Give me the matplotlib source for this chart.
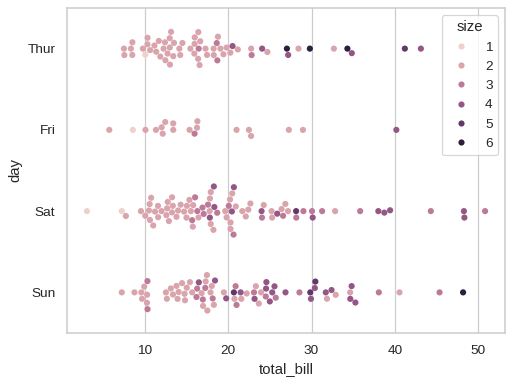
import numpy as np
import pandas as pd
import seaborn as sns
from matplotlib import pyplot as plt

days = ["Thur", "Fri", "Sat", "Sun"]

thur_bill = [27.20, 22.76, 17.29, 19.44, 16.66, 10.07, 32.68, 15.98, 34.83, 13.03,
             18.28, 24.71, 21.16, 10.65, 12.43, 24.08, 11.69, 13.42, 14.26, 15.95,
             12.48, 29.80, 8.52, 14.52, 11.38, 22.82, 19.08, 20.27, 11.17, 12.26,
             18.26, 8.51, 10.33, 14.15, 16.00, 13.16, 17.47, 34.30, 41.19, 27.05,
             16.43, 8.35, 18.64, 11.87, 9.78, 7.51, 19.81, 28.44, 15.48, 16.58,
             7.56, 10.34, 43.11, 13.00, 13.51, 18.71, 12.74, 13.00, 16.40, 20.53,
             16.47, 18.78]
thur_size = [4, 2, 2, 2, 2, 1, 2, 2, 4, 2,
             2, 2, 2, 2, 2, 4, 2, 2, 2, 2,
             2, 6, 2, 2, 2, 3, 2, 2, 2, 2,
             2, 2, 2, 2, 2, 2, 2, 6, 5, 6,
             2, 2, 3, 2, 2, 2, 2, 2, 2, 2,
             2, 2, 4, 2, 2, 3, 2, 2, 2, 4,
             3, 2]

fri_bill = [28.97, 22.49, 5.75, 16.32, 22.75, 40.17, 27.28, 12.03, 21.01, 12.46,
            11.35, 15.38, 12.16, 13.42, 8.58, 15.98, 13.42, 16.27, 10.09]
fri_size = [2, 2, 2, 2, 2, 4, 2, 2, 2, 2,
            2, 2, 2, 2, 1, 3, 2, 2, 2]

sat_bill = [20.65, 17.92, 20.29, 15.77, 39.42, 19.82, 17.81, 13.37, 12.69, 21.70,
            19.65, 9.55, 18.35, 15.06, 20.69, 17.78, 24.06, 16.31, 16.93, 18.69,
            31.27, 16.04, 38.01, 26.41, 11.24, 48.27, 20.29, 13.81, 11.02, 18.29,
            17.59, 20.08, 16.45, 3.07, 20.23, 15.01, 12.02, 17.07, 26.86, 25.28,
            14.73, 10.51, 17.92, 44.30, 22.42, 20.92, 15.36, 20.49, 25.21, 18.24,
            14.31, 14.00, 7.25, 10.59, 10.63, 50.81, 15.81, 26.59, 38.73, 24.27,
            12.76, 30.06, 25.89, 48.33, 13.27, 28.17, 12.90, 28.15, 11.59, 7.74,
            30.14, 20.45, 13.28, 22.12, 24.01, 15.69, 11.61, 10.77, 15.53, 10.07,
            12.60, 32.83, 35.83, 29.03, 27.18, 22.67, 17.82]
sat_size = [3, 2, 2, 2, 4, 2, 4, 2, 2, 2,
            2, 2, 4, 2, 4, 2, 3, 3, 3, 3,
            3, 3, 4, 2, 2, 4, 2, 2, 2, 4,
            3, 3, 2, 1, 2, 2, 2, 3, 2, 2,
            2, 2, 2, 3, 2, 2, 2, 2, 2, 2,
            2, 2, 1, 2, 2, 3, 2, 3, 4, 2,
            2, 3, 4, 4, 2, 3, 2, 5, 2, 2,
            4, 4, 2, 2, 4, 3, 2, 2, 2, 2,
            2, 2, 3, 3, 2, 2, 2]

sun_bill = [16.99, 10.34, 21.01, 23.68, 24.59, 25.29, 8.77, 26.88, 15.04, 14.78,
            10.27, 35.26, 15.42, 18.43, 14.83, 21.58, 10.33, 16.29, 16.97, 17.46,
            13.94, 9.68, 30.40, 18.29, 22.23, 32.40, 28.55, 18.04, 12.54, 10.29,
            34.81, 9.94, 25.56, 19.49, 38.07, 23.95, 25.71, 17.31, 29.93, 14.07,
            13.13, 17.26, 24.55, 19.77, 29.85, 48.17, 25.00, 13.39, 16.49, 21.50,
            12.66, 16.21, 13.81, 17.51, 24.52, 20.76, 31.71, 7.25, 31.85, 16.82,
            32.90, 17.89, 14.48, 9.60, 34.63, 34.65, 23.33, 45.35, 23.17, 40.55,
            20.69, 20.90, 30.46, 18.15, 23.10, 15.69]
sun_size = [2, 3, 3, 2, 4, 4, 2, 4, 2, 2,
            2, 4, 2, 4, 2, 2, 3, 3, 3, 2,
            2, 2, 4, 2, 2, 4, 3, 2, 2, 2,
            4, 2, 4, 2, 3, 2, 3, 2, 4, 2,
            2, 3, 4, 4, 5, 6, 4, 2, 4, 4,
            2, 3, 2, 2, 3, 2, 4, 2, 2, 2,
            2, 2, 2, 2, 2, 4, 2, 3, 4, 2,
            5, 3, 5, 3, 3, 2]

bills = [thur_bill, fri_bill, sat_bill, sun_bill]
sizes = [thur_size, fri_size, sat_size, sun_size]

tips = pd.DataFrame({
    "total_bill": np.concatenate(bills),
    "day": np.concatenate([[d] * len(b) for d, b in zip(days, bills)]),
    "size": np.concatenate(sizes),
})

sns.set_theme(style="whitegrid")
plt.rcParams['font.family'] = ['Liberation Sans', 'DejaVu Sans']

# reference looks like a tight-cropped 100dpi figure shrunk to 512 px
dpi = 88.9
fig = plt.figure(figsize=(512 / dpi, 385 / dpi), dpi=dpi)
ax = fig.add_axes([67 / 512, 1 - 333 / 385, (505 - 67) / 512, (333 - 8) / 385])
sns.swarmplot(data=tips, x="total_bill", y="day", hue="size", order=days, ax=ax)
fig.savefig("out.png", dpi=dpi)
